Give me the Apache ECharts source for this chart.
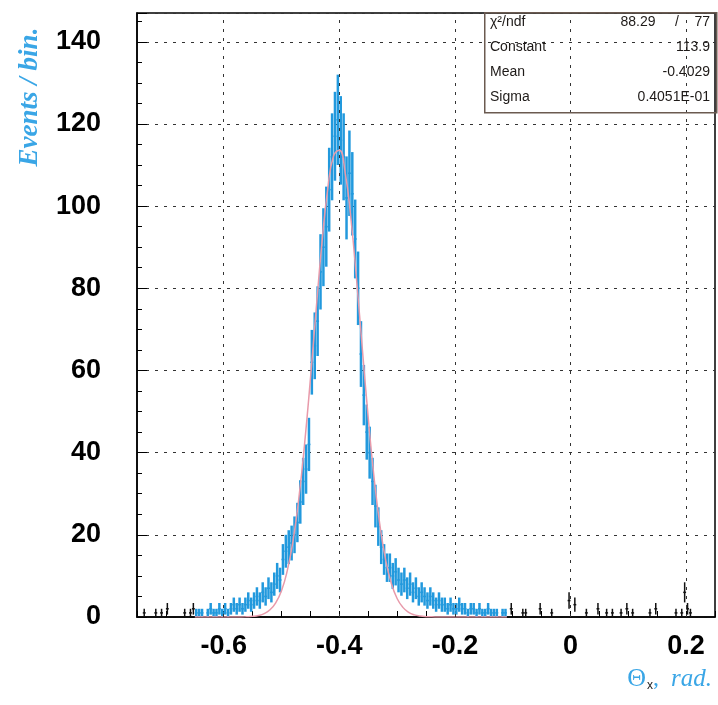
<!DOCTYPE html>
<html><head><meta charset="utf-8">
<script src="https://cdn.jsdelivr.net/npm/echarts@6/dist/echarts.min.js"></script>
<style>html,body{margin:0;padding:0;background:#fff}#c{width:718px;height:705px}</style>
</head><body><div id="c"></div>
<script>
// ---- data ----
const binStart = -0.75;
const binWidth = 0.005;
const counts = [
  0,0,1,0,0,0,1,0,1,0,
  2,0,0,0,0,0,1,0,1,2,
  1,1,1,0,1,2,1,1,2,1,
  2,1,2,3,2,3,2,3,4,3,
  4,5,4,6,5,7,6,8,10,9,
  14,16,17,18,20,23,28,33,36,42,
  62,66,72,84,90,95,104,112,117,121,
  116,112,102,108,103,92,80,64,54,45,
  40,33,27,22,17,14,12,12,10,11,
  9,8,9,7,8,6,7,5,6,5,
  4,5,4,3,4,3,3,2,3,2,
  2,3,2,2,1,2,2,1,2,1,
  1,2,1,1,1,0,1,1,0,2,
  0,0,0,1,1,0,0,0,0,2,
  0,0,0,1,0,0,0,0,0,4,
  0,3,0,0,0,1,0,0,0,2,
  0,0,1,0,1,0,0,1,0,2,
  0,1,0,0,0,0,0,1,0,2,
  0,0,0,0,0,0,1,0,1,6,
  2,1,0,0,0,0,0,0,0,0
];
const fitRange = [-0.65, -0.105];
const fitX = [-0.65,-0.64,-0.63,-0.62,-0.61,-0.60,-0.59,-0.58,-0.57,-0.56,-0.55,-0.54,-0.53,-0.52,-0.51,-0.50,
  -0.49,-0.48,-0.47,-0.46,-0.45,-0.44,-0.43,-0.42,-0.41,-0.40,-0.39,-0.38,-0.37,-0.36,-0.35,-0.34,-0.33,-0.32,
  -0.31,-0.30,-0.29,-0.28,-0.27,-0.26,-0.25,-0.24,-0.22,-0.20,-0.18,-0.16,-0.14,-0.12,-0.11];
const fitY = [0,0,0,0,0,0,0,0,0,0.06,0.16,0.37,0.83,1.75,3.46,6.4,
  11.3,18.6,28.9,42.2,57.9,74.9,91.1,104.2,112.2,113.6,108.3,97.1,81.9,65.0,48.6,34.1,22.6,14.0,
  8.2,4.5,2.34,1.14,0.52,0.23,0.09,0.04,0,0,0,0,0,0,0];
const xTicks = [-0.6, -0.4, -0.2, 0, 0.2];
const xTickLabels = ['-0.6', '-0.4', '-0.2', '0', '0.2'];
const yTicks = [0, 20, 40, 60, 80, 100, 120, 140];
const statsLabels = ['\u03C7\u00B2/ndf', 'Constant', 'Mean', 'Sigma'];
const statsValues = ['88.29     /    77', '113.9', '-0.4029', '0.4051E-01'];

// ---- build ----
const barData = [];
counts.forEach((n, i) => {
  if (n <= 0) return;
  const x0 = binStart + i * binWidth, x1 = x0 + binWidth;
  const c = (x0 + x1) / 2;
  const inFit = (c >= fitRange[0] && c <= fitRange[1]) ? 1 : 0;
  barData.push([x0, x1, n, inFit]);
});
const fitData = fitX.map((x, i) => [x, fitY[i]]);

const chart = echarts.init(document.getElementById('c'), null, {renderer: 'canvas'});
const G = {left: 137, top: 13, right: 2, bottom: 88};
const statsFont = '14px "Liberation Sans", Arial';
const statsRows = [];
statsLabels.forEach((l, i) => {
  const y = 23 + i * 25;
  statsRows.push({type: 'text', left: 490, top: y - 8,
    style: {text: l, font: statsFont, fill: '#1e1a18'}, z: 100});
  statsRows.push({type: 'text', right: 8, top: y - 8,
    style: {text: statsValues[i], font: statsFont, fill: '#1e1a18', textAlign: 'right'}, z: 100});
});

chart.setOption({
  animation: false,
  backgroundColor: '#fff',
  grid: {left: G.left, top: G.top, right: G.right, bottom: G.bottom, show: true, borderColor: '#000', borderWidth: 1.5, backgroundColor: 'transparent'},
  xAxis: {
    type: 'value', min: -0.75, max: 0.25, interval: 0.05,
    axisLine: {show: true, onZero: false, lineStyle: {color: '#000', width: 1.5}},
    axisTick: {show: true, inside: true, length: 6, lineStyle: {color: '#000'}},
    splitLine: {show: false},
    axisLabel: {
      margin: 16, color: '#000', fontSize: 27, fontWeight: 'bold', fontFamily: '"Liberation Sans", Arial',
      formatter: v => { const k = xTicks.findIndex(t => Math.abs(t - v) < 1e-6); return k >= 0 ? xTickLabels[k] : ''; }
    }
  },
  yAxis: {
    type: 'value', min: 0, max: 147, interval: 20,
    axisLine: {show: true, onZero: false, lineStyle: {color: '#000', width: 1.5}},
    axisTick: {show: true, inside: true, length: 10, lineStyle: {color: '#000'}},
    minorTick: {show: true, splitNumber: 4, length: 5, lineStyle: {color: '#000'}},
    splitLine: {show: true, lineStyle: {color: '#333', width: 1, type: [3, 6]}},
    axisLabel: {
      margin: 36, color: '#000', fontSize: 27, fontWeight: 'bold', fontFamily: '"Liberation Sans", Arial',
      formatter: v => yTicks.indexOf(v) >= 0 ? String(v) : ''
    }
  },
  series: [
    {
      type: 'line', data: [], silent: true,
      markLine: {
        silent: true, symbol: ['none', 'none'], label: {show: false},
        lineStyle: {color: '#333', width: 1, type: [3, 6]},
        data: xTicks.map(t => ({xAxis: t}))
      }
    },
    {
      type: 'custom', clip: true, data: barData, z: 3,
      renderItem: function (params, api) {
        const x0 = api.value(0), x1 = api.value(1), n = api.value(2), inFit = api.value(3);
        const e = Math.sqrt(n), c = (x0 + x1) / 2;
        const lo = api.coord([c, Math.max(0, n - e)]);
        const hi = api.coord([c, n + e]);
        const pl = api.coord([x0, n]);
        const pr = api.coord([x1, n]);
        const color = inFit ? '#2299dd' : '#111';
        return {type: 'group', children: [
          {type: 'line', shape: {x1: lo[0], y1: lo[1], x2: hi[0], y2: hi[1]}, style: {stroke: color, lineWidth: inFit ? 2.5 : 1.5}},
          {type: 'line', shape: {x1: pl[0], y1: pl[1], x2: pr[0], y2: pr[1]}, style: {stroke: color, lineWidth: 1.5}}
        ]};
      }
    },
    {
      type: 'line', data: fitData, smooth: true, showSymbol: false, z: 4,
      lineStyle: {color: '#e89aaa', width: 1.5}
    }
  ],
  graphic: [
    {type: 'rect', left: 484, top: 12, shape: {width: 232, height: 100}, style: {fill: 'transparent', stroke: '#6b5a50', lineWidth: 1.5}, z: 100},
    ...statsRows,
    {type: 'text', x: 30, y: 97, rotation: Math.PI / 2,
      style: {text: 'Events / bin.', font: 'italic bold 27px "Liberation Serif", "DejaVu Serif", serif', fill: '#3aa6e6', textAlign: 'center', textVerticalAlign: 'middle'}, z: 100},
    {type: 'text', right: 6, top: 666,
      style: {
        text: '{t|\u0398}{s|x}{n|, }{r|rad.}',
        rich: {
          t: {font: '26px "Liberation Serif", serif', fill: '#3aa6e6'},
          s: {font: '12px "Liberation Sans", sans-serif', fill: '#222', padding: [14, 0, 0, 1]},
          n: {font: '24px "Liberation Serif", serif', fill: '#3aa6e6'},
          r: {font: 'italic 25px "Liberation Serif", serif', fill: '#3aa6e6', padding: [0, 0, 0, 6]}
        }
      }, z: 100}
  ]
});
</script></body></html>
